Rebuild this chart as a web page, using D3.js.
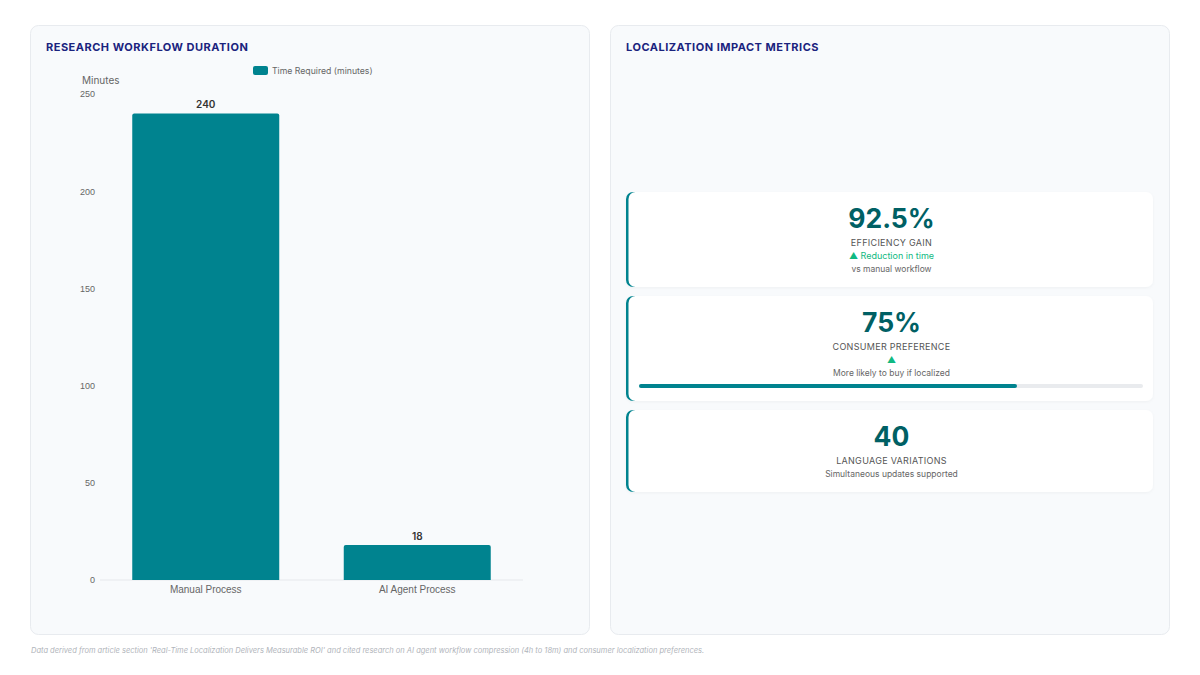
<!DOCTYPE html>
<html>
<head>
    <meta charset="utf-8">
    <style>
        body {
            margin: 0;
            background: #ffffff;
            font-family: Inter, "Noto Sans", sans-serif;
        }

        svg {
            display: block;
        }

        .y .domain, .x .domain {
            display: none;
        }

        .y .tick line, .x .tick line {
            display: none;
        }

        .y .tick text {
            font-size: 9px;
            fill: #666;
        }

        .x .tick text {
            font-size: 10px;
            fill: #666;
        }

        .panel-title {
            font-size: 11px;
            font-weight: 700;
            letter-spacing: 0.5px;
            fill: #1a237e;
        }
    </style>
</head>
<body>
    <svg width="1200" height="675"></svg>

    <script src="https://d3js.org/d3.v7.min.js"></script>
    <script>
        // chart data
        let categories = ["Manual Process", "AI Agent Process"]
        let minutes = [240, 18]
        let yTicks = [0, 50, 100, 150, 200, 250]
        let seriesName = "Time Required (minutes)"

        // metric cards
        let metricValues = ["92.5%", "75%", "40"]
        let metricLabels = ["EFFICIENCY GAIN", "CONSUMER PREFERENCE", "LANGUAGE VARIATIONS"]
        let metricTrends = ["▲ Reduction in time", "▲", ""]
        let metricNotes = ["vs manual workflow", "More likely to buy if localized", "Simultaneous updates supported"]
        let metricProgress = [null, 75, null]

        let footnote = "Data derived from article section 'Real-Time Localization Delivers Measurable ROI' and cited research on AI agent workflow compression (4h to 18m) and consumer localization preferences."

        let teal = "#00838f"
        let darkTeal = "#006064"

        let svg = d3.select("svg")

        // panel backgrounds
        let panels = [
            { x: 30, title: "RESEARCH WORKFLOW DURATION" },
            { x: 610, title: "LOCALIZATION IMPACT METRICS" }
        ]

        svg.selectAll("rect.panel")
            .data(panels)
            .join("rect")
            .attr("class", "panel")
            .attr("x", d => d.x + 0.5)
            .attr("y", 25.5)
            .attr("width", 559)
            .attr("height", 609)
            .attr("rx", 8)
            .attr("fill", "#f8fafc")
            .attr("stroke", "#e8ebef")

        svg.selectAll("text.panel-title")
            .data(panels)
            .join("text")
            .attr("class", "panel-title")
            .attr("x", d => d.x + 16)
            .attr("y", 51)
            .text(d => d.title)

        // ---- bar chart ----
        let margin = { top: 94, bottom: 95, left: 100, right: 677 }

        let x = d3.scaleBand()
            .domain(categories)
            .range([margin.left, 1200 - margin.right])
            .paddingInner(0.305)
            .paddingOuter(0.1525)

        let y = d3.scaleLinear()
            .domain([0, 250])
            .range([675 - margin.bottom, margin.top])

        // baseline
        svg.append("line")
            .attr("x1", margin.left)
            .attr("x2", 1200 - margin.right)
            .attr("y1", y(0))
            .attr("y2", y(0))
            .attr("stroke", "#e6e8ec")

        let yAxisSettings = d3.axisLeft(y)
            .tickValues(yTicks)
            .tickSize(0)
            .tickPadding(5)

        svg.append("g")
            .attr("class", "y axis")
            .attr("transform", `translate(${margin.left},0)`)
            .call(yAxisSettings)

        let xAxisSettings = d3.axisBottom(x)
            .tickSize(0)
            .tickPadding(6)

        svg.append("g")
            .attr("class", "x axis")
            .attr("transform", `translate(0,${y(0)})`)
            .call(xAxisSettings)

        svg.append("text")
            .attr("x", 82)
            .attr("y", 84)
            .text("Minutes")
            .style("font-size", "10px")
            .style("fill", "#666")

        let data = categories.map((c, i) => ({ category: c, value: minutes[i] }))

        // bars with slightly rounded top corners
        let r = 2
        svg.append("g")
            .selectAll("path")
            .data(data)
            .join("path")
            .attr("fill", teal)
            .attr("d", d => {
                let x0 = x(d.category), w = x.bandwidth()
                let y0 = y(d.value), y1 = y(0)
                return `M${x0},${y1}V${y0 + r}Q${x0},${y0} ${x0 + r},${y0}H${x0 + w - r}Q${x0 + w},${y0} ${x0 + w},${y0 + r}V${y1}Z`
            })

        svg.append("g")
            .selectAll("text")
            .data(data)
            .join("text")
            .attr("x", d => x(d.category) + x.bandwidth() / 2)
            .attr("y", d => y(d.value) - 5)
            .attr("text-anchor", "middle")
            .text(d => d.value)
            .style("font-size", "10px")
            .style("font-weight", "600")
            .style("fill", "#333")

        // legend
        let legend = svg.append("g").attr("transform", "translate(253,66)")
        legend.append("rect")
            .attr("width", 15)
            .attr("height", 9)
            .attr("rx", 2)
            .attr("fill", teal)
        legend.append("text")
            .attr("x", 19)
            .attr("y", 8)
            .text(seriesName)
            .style("font-size", "8.7px")
            .style("fill", "#666")

        // ---- metric cards ----
        let cardX = 626, cardW = 527
        let cardTops = [192, 296, 410]
        let cardHeights = [95, 105, 82]

        let metrics = metricValues.map((v, i) => ({
            value: v,
            label: metricLabels[i],
            trend: metricTrends[i],
            note: metricNotes[i],
            progress: metricProgress[i],
            top: cardTops[i],
            h: cardHeights[i]
        }))

        let defs = svg.append("defs")
        let f = defs.append("filter").attr("id", "shadow")
            .attr("x", "-5%").attr("y", "-20%").attr("width", "110%").attr("height", "140%")
        f.append("feDropShadow")
            .attr("dx", 0).attr("dy", 1).attr("stdDeviation", 1.5)
            .attr("flood-color", "#000").attr("flood-opacity", 0.04)

        let cards = svg.selectAll("g.card")
            .data(metrics)
            .join("g")
            .attr("class", "card")
            .attr("transform", d => `translate(${cardX},${d.top})`)

        // white card with shadow, then teal left edge
        cards.append("rect")
            .attr("width", cardW)
            .attr("height", d => d.h)
            .attr("rx", 7)
            .attr("fill", "#ffffff")
            .attr("filter", "url(#shadow)")

        cards.append("rect")
            .attr("width", 20)
            .attr("height", d => d.h)
            .attr("rx", 7)
            .attr("fill", teal)

        cards.append("rect")
            .attr("x", 2.5)
            .attr("width", 40)
            .attr("height", d => d.h)
            .attr("rx", 7)
            .attr("fill", "#ffffff")

        cards.append("text")
            .attr("x", cardW / 2 + 2)
            .attr("y", 36)
            .attr("text-anchor", "middle")
            .text(d => d.value)
            .style("font-size", "26.5px")
            .style("font-weight", "700")
            .style("fill", darkTeal)

        cards.append("text")
            .attr("x", cardW / 2 + 2)
            .attr("y", 54)
            .attr("text-anchor", "middle")
            .text(d => d.label)
            .style("font-size", "9px")
            .style("letter-spacing", "0.3px")
            .style("fill", "#555")

        cards.filter(d => d.trend)
            .append("text")
            .attr("x", cardW / 2 + 2)
            .attr("y", 67)
            .attr("text-anchor", "middle")
            .text(d => d.trend)
            .style("font-size", "9px")
            .style("fill", "#10b981")

        cards.append("text")
            .attr("x", cardW / 2 + 2)
            .attr("y", d => d.trend ? 80 : 67)
            .attr("text-anchor", "middle")
            .text(d => d.note)
            .style("font-size", "8.5px")
            .style("fill", "#666")

        // progress bar
        let p = d3.scaleLinear().domain([0, 100]).range([0, 504])
        let prog = cards.filter(d => d.progress != null)
        prog.append("rect")
            .attr("x", 13)
            .attr("y", 88)
            .attr("width", p(100))
            .attr("height", 4)
            .attr("rx", 2)
            .attr("fill", "#e9ebee")
        prog.append("rect")
            .attr("x", 13)
            .attr("y", 88)
            .attr("width", d => p(d.progress))
            .attr("height", 4)
            .attr("rx", 2)
            .attr("fill", teal)

        // footnote
        svg.append("text")
            .attr("x", 31)
            .attr("y", 653)
            .text(footnote)
            .style("font-size", "7.5px")
            .style("font-style", "italic")
            .style("fill", "#b0b4ba")
    </script>
</body>
</html>
